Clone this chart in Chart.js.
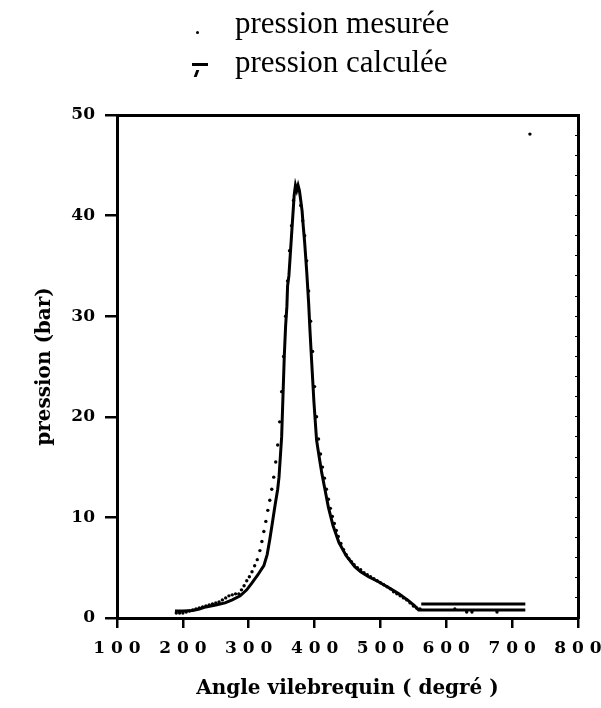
<!DOCTYPE html>
<html>
<head>
<meta charset="utf-8">
<script src="https://cdn.jsdelivr.net/npm/chart.js@4.4.1/dist/chart.umd.min.js"></script>
<style>
  html, body { margin: 0; padding: 0; background: #fff; }
  #wrap { position: relative; width: 601px; height: 708px; }
  #c { position: absolute; left: 0; top: 0; }
  .lg { position: absolute; font-family: "Liberation Serif", serif; font-size: 31px; line-height: 31px; color: #000; white-space: nowrap; }
  .dot { position: absolute; width: 3px; height: 3px; border-radius: 50%; background: #000; }
  .bar { position: absolute; background: #000; }
</style>
</head>
<body>
<div id="wrap">
  <canvas id="c" width="601" height="708"></canvas>
  <div class="dot" style="left:196px; top:31px;"></div>
  <div class="lg" style="left:235px; top:7px;">pression mesurée</div>
  <div class="bar" style="left:192px; top:63px; width:16px; height:3px;"></div>
  <div class="bar" style="left:195px; top:70px; width:3px; height:7px; transform: skewX(-20deg);"></div>
  <div class="lg" style="left:235px; top:46px;">pression calculée</div>
</div>
<script>
// ---- data ----
const calcAngle = [188, 200, 215, 225, 235, 250, 264, 275, 287, 297, 305, 314, 323, 328, 332, 336, 340, 344, 346, 348, 350,
  352, 354, 356, 358, 359, 361, 363, 365, 367, 369, 371, 373, 375, 377, 379, 381, 383, 385, 388, 391, 393, 396, 399,
  403, 407, 411, 416, 421, 428, 437, 448, 461, 470, 482, 497, 513, 528, 543, 552, 558, 720, 721, 562, 720];
const calcPressure = [0.7, 0.7, 0.75, 0.9, 1.1, 1.3, 1.5, 1.8, 2.2, 2.8, 3.5, 4.3, 5.2, 6.3, 7.8, 9.5, 11.2, 12.8, 14, 16, 18,
  22, 26, 29, 31, 33, 34, 36, 38, 40, 42, 43, 42.5, 43, 42.5, 41.5, 40.5, 38.8, 37.3, 34.5, 31.3, 28.6, 25, 21.5,
  17.7, 16, 14.4, 12.7, 11, 9.2, 7.5, 6.2, 5.1, 4.6, 4.1, 3.6, 3.0, 2.4, 1.7, 1.2, 0.8, 0.8, null, 1.4, 1.4];

const measAngle = [190, 195, 200, 205, 210, 215, 220, 225, 230, 235, 240, 245, 250, 255, 260, 265, 270, 275, 280,
  285, 289, 293, 297, 301, 305, 309, 313, 317, 320, 323, 326, 329, 332, 335, 338, 341, 344, 347, 350, 353, 356,
  359, 362, 365, 368, 371, 375, 379, 382,
  385, 388, 391, 394, 397, 400, 403, 406, 409, 412, 415, 418, 421, 424, 427, 430, 433, 436, 440, 444, 448, 452,
  456, 460, 465, 470, 475, 480, 485, 490, 495, 500, 505, 510, 515, 520, 525, 530, 535, 540, 545, 550, 555, 560,
  613, 631, 639, 677, 727];
const measPressure = [0.5, 0.5, 0.5, 0.6, 0.7, 0.8, 0.9, 1.0, 1.1, 1.2, 1.3, 1.4, 1.5, 1.6, 1.8, 2.0, 2.2, 2.3, 2.4,
  2.4, 2.8, 3.2, 3.7, 4.1, 4.6, 5.2, 5.8, 6.7, 7.6, 8.6, 9.6, 10.7, 11.7, 12.8, 14.0, 15.5, 17.2, 19.5, 22.5, 26, 30,
  33.5, 36.5, 39, 41.5, 42.5, 42.5, 41, 39.5,
  38, 35.5, 32.5, 29.5, 26.5, 23, 20, 17.8, 16.3, 15.0, 13.9, 12.8, 11.8, 10.9, 10.1, 9.4, 8.7, 8.1, 7.4, 6.8, 6.3, 5.9,
  5.6, 5.3, 5.0, 4.8, 4.5, 4.3, 4.1, 3.9, 3.7, 3.5, 3.3, 3.1, 2.9, 2.6, 2.4, 2.2, 2.0, 1.8, 1.5, 1.2, 1.0, 0.9,
  0.9, 0.6, 0.6, 0.6, 48.1];

const xMin = 100, xMax = 800, xStep = 100;
const yMin = 0, yMax = 50, yStep = 10;
const xTitle = 'Angle vilebrequin ( degré )';
const yTitle = 'pression (bar)';

// ---- build ----
const calcData = calcAngle.map((a, i) => ({ x: a, y: calcPressure[i] }));
const measData = measAngle.map((a, i) => ({ x: a, y: measPressure[i] }));

const axisFont = { family: 'DejaVu Serif', weight: 'bold', size: 17 };
const titleFont = { family: 'DejaVu Serif', weight: 'bold', size: 20 };

new Chart(document.getElementById('c'), {
  type: 'scatter',
  data: {
    datasets: [
      { label: 'pression calculée', data: calcData, showLine: true, borderColor: '#000', borderWidth: 3,
        pointRadius: 0, tension: 0, spanGaps: false, order: 2 },
      { label: 'pression mesurée', data: measData, showLine: false, backgroundColor: '#000', borderColor: '#000',
        pointRadius: 1.7, borderWidth: 0, order: 1 }
    ]
  },
  options: {
    responsive: false,
    devicePixelRatio: 1,
    animation: false,
    layout: { padding: { top: 115, right: 23, left: 0, bottom: 0 } },
    plugins: { legend: { display: false }, tooltip: { enabled: false } },
    scales: {
      x: {
        type: 'linear', position: 'bottom', min: xMin, max: xMax,
        ticks: { stepSize: xStep, color: '#000', font: axisFont, padding: 10, maxRotation: 0,
                 callback: v => String(v).split('').join(' ') },
        grid: { drawOnChartArea: false, drawTicks: true, tickLength: 10, color: '#000', lineWidth: 2.5 },
        border: { display: true, color: '#000', width: 3 },
        title: { display: true, text: xTitle, color: '#000', font: titleFont, padding: { top: 0, bottom: 7 } },
        afterFit: s => { s.height = 90; s.paddingLeft = 0; s.paddingRight = 0; }
      },
      x2: {
        type: 'linear', position: 'top', min: xMin, max: xMax,
        ticks: { display: false },
        grid: { display: false, drawTicks: false },
        border: { display: true, color: '#000', width: 3 },
        afterFit: s => { s.height = 0; s.paddingLeft = 0; s.paddingRight = 0; }
      },
      y: {
        type: 'linear', position: 'left', min: yMin, max: yMax,
        ticks: { stepSize: yStep, color: '#000', font: axisFont, padding: 10 },
        grid: { drawOnChartArea: false, drawTicks: true, tickLength: 12, color: '#000', lineWidth: 2.5 },
        border: { display: true, color: '#000', width: 3 },
        title: { display: true, text: yTitle, color: '#000', font: titleFont, padding: { top: 33, bottom: 0 } },
        afterFit: s => { s.width = 117; }
      },
      y2: {
        type: 'linear', position: 'right', min: yMin, max: yMax,
        ticks: { display: false, stepSize: 2 },
        grid: { drawOnChartArea: false, drawTicks: true, tickLength: -3, color: '#000', lineWidth: 1 },
        border: { display: true, color: '#000', width: 3 },
        afterFit: s => { s.width = 0; }
      }
    }
  }
});
</script>
</body>
</html>
